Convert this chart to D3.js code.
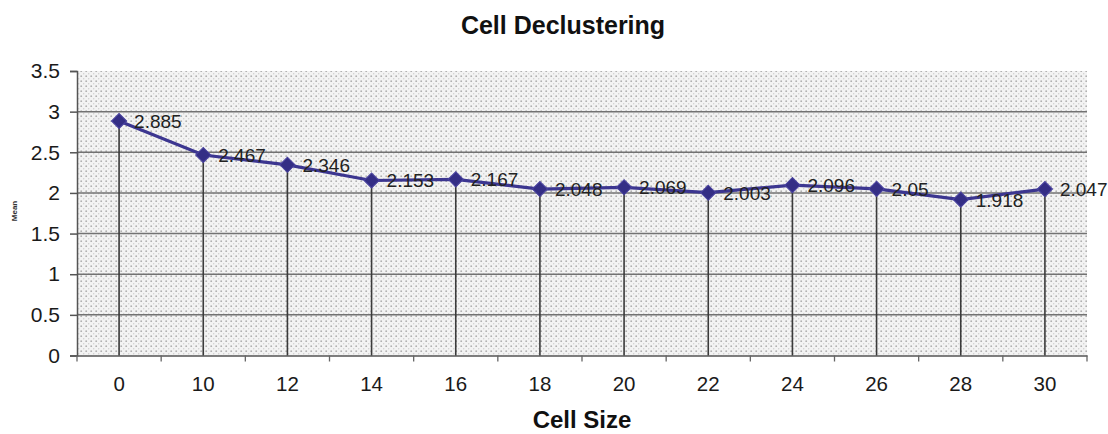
<!DOCTYPE html>
<html>
<head>
<meta charset="utf-8">
<script src="https://cdn.jsdelivr.net/npm/d3@7"></script>
<style>
  html, body { margin: 0; padding: 0; background: #fff; }
  svg { display: block; font-family: "Liberation Sans", Arial, sans-serif; }
</style>
</head>
<body>
<svg id="chart" width="1108" height="434"></svg>
<script>
// Cell declustering: mean value for each cell size
const cellSizes = ["0", "10", "12", "14", "16", "18", "20", "22", "24", "26", "28", "30"];
const meanValues = [2.885, 2.467, 2.346, 2.153, 2.167, 2.048, 2.069, 2.003, 2.096, 2.05, 1.918, 2.047];
const yTicks = [0, 0.5, 1, 1.5, 2, 2.5, 3, 3.5];

const svg = d3.select("#chart");
const plot = { left: 77, right: 1087, top: 71, bottom: 355.5 };

const x = d3.scaleBand().domain(cellSizes).range([plot.left, plot.right]).padding(0);
const y = d3.scaleLinear().domain([0, 3.5]).range([plot.bottom, plot.top]);

// stippled plot-area fill
const defs = svg.append("defs");
const pat = defs.append("pattern")
  .attr("id", "stipple").attr("patternUnits", "userSpaceOnUse")
  .attr("width", 5).attr("height", 5);
pat.append("rect").attr("width", 5).attr("height", 5).attr("fill", "#f3f3f3");
pat.append("circle").attr("cx", 1.2).attr("cy", 1.2).attr("r", 0.9).attr("fill", "#b0b0b0");
pat.append("circle").attr("cx", 3.7).attr("cy", 3.7).attr("r", 0.7).attr("fill", "#cdcdcd");

svg.append("rect")
  .attr("x", plot.left).attr("y", plot.top)
  .attr("width", plot.right - plot.left).attr("height", plot.bottom - plot.top)
  .attr("fill", "url(#stipple)");

// horizontal gridlines
svg.append("g")
  .selectAll("line")
  .data(yTicks.filter(d => d > 0 && d < 3.5))
  .join("line")
  .attr("x1", plot.left).attr("x2", plot.right)
  .attr("y1", d => y(d)).attr("y2", d => y(d))
  .attr("stroke", "#727272").attr("stroke-width", 1.5);

// y axis
const yAxis = svg.append("g")
  .attr("transform", `translate(${plot.left},0)`)
  .call(d3.axisLeft(y).tickValues(yTicks).tickSize(7).tickPadding(10).tickFormat(d3.format("")));
yAxis.select(".domain").attr("stroke", "#555").attr("stroke-width", 1.5);
yAxis.selectAll(".tick line").attr("stroke", "#555").attr("stroke-width", 1.5);
yAxis.selectAll(".tick text")
  .attr("font-size", 21).attr("fill", "#1a1a1a")
  .attr("font-family", "'Liberation Sans', Arial, sans-serif");

// x axis with ticks between categories
const xAxis = svg.append("g")
  .attr("transform", `translate(0,${plot.bottom})`)
  .call(d3.axisBottom(x).tickSize(0).tickPadding(21));
xAxis.select(".domain").attr("stroke", "#555").attr("stroke-width", 1.5);
xAxis.selectAll(".tick text")
  .attr("font-size", 20.5).attr("fill", "#1a1a1a")
  .attr("font-family", "'Liberation Sans', Arial, sans-serif");

const boundaries = cellSizes.map(c => x(c)).concat([x(cellSizes[cellSizes.length - 1]) + x.bandwidth()]);
svg.append("g")
  .selectAll("line")
  .data(boundaries)
  .join("line")
  .attr("x1", d => d).attr("x2", d => d)
  .attr("y1", plot.bottom).attr("y2", plot.bottom + 6)
  .attr("stroke", "#666").attr("stroke-width", 1.3);

const cx = (d, i) => x(cellSizes[i]) + x.bandwidth() / 2;

// drop lines from each point to the axis
svg.append("g")
  .selectAll("line")
  .data(meanValues)
  .join("line")
  .attr("x1", cx).attr("x2", cx)
  .attr("y1", d => y(d)).attr("y2", plot.bottom)
  .attr("stroke", "#3a3a3a").attr("stroke-width", 1.6);

// series line
svg.append("path")
  .datum(meanValues)
  .attr("fill", "none")
  .attr("stroke", "#3c3690")
  .attr("stroke-width", 3.2)
  .attr("d", d3.line().x(cx).y(d => y(d)));

// diamond markers (square turned 45 degrees)
svg.append("g")
  .selectAll("path")
  .data(meanValues)
  .join("path")
  .attr("transform", (d, i) => `translate(${cx(d, i)},${y(d)}) rotate(45)`)
  .attr("d", d3.symbol(d3.symbolSquare, 115)())
  .attr("fill", "#342e85")
  .attr("stroke", "#4a43a0").attr("stroke-width", 1);

// value labels
svg.append("g")
  .selectAll("text")
  .data(meanValues)
  .join("text")
  .attr("x", (d, i) => cx(d, i) + 15)
  .attr("y", d => y(d) + 7)
  .attr("font-size", 19)
  .attr("fill", "#222")
  .text(d => String(d));

// titles
svg.append("text")
  .attr("x", 563).attr("y", 34)
  .attr("text-anchor", "middle")
  .attr("font-size", 25).attr("font-weight", "bold").attr("fill", "#111")
  .text("Cell Declustering");

svg.append("text")
  .attr("x", 582).attr("y", 428)
  .attr("text-anchor", "middle")
  .attr("font-size", 24).attr("font-weight", "bold").attr("fill", "#111")
  .text("Cell Size");

svg.append("text")
  .attr("transform", "translate(17,211) rotate(-90)")
  .attr("text-anchor", "middle")
  .attr("font-size", 8).attr("font-weight", "bold").attr("fill", "#333")
  .text("Mean");
</script>
</body>
</html>
